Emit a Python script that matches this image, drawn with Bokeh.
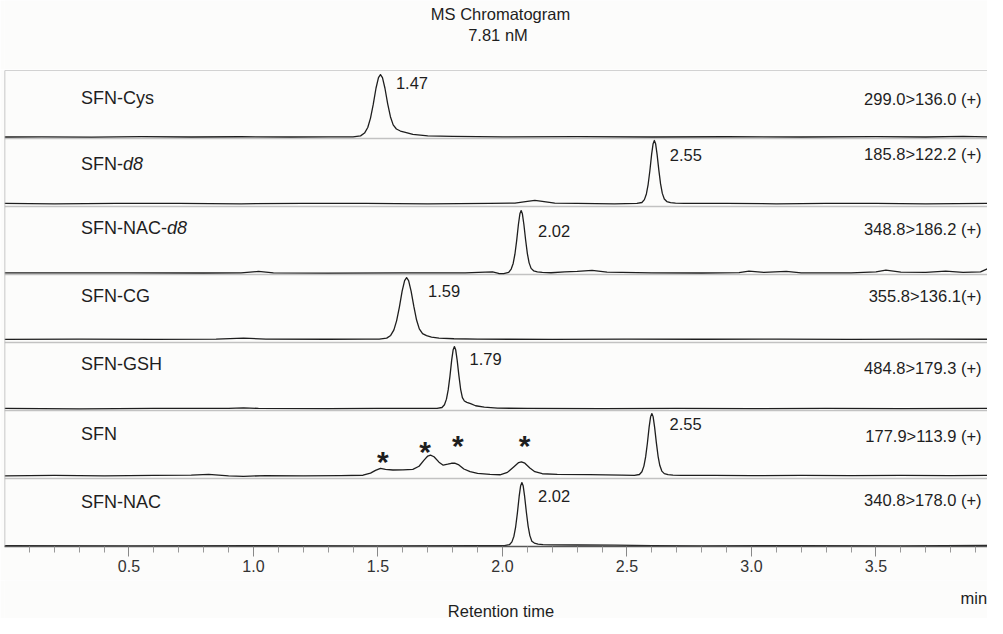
from bokeh.plotting import figure
from bokeh.layouts import column
from bokeh.models import Range1d, FixedTicker, Span, PrintfTickFormatter, ColumnDataSource
from bokeh.core.properties import value
from bokeh.embed import file_html
from bokeh.resources import INLINE

# ---------------- data ----------------
TITLE_LINES = ["MS Chromatogram", "7.81 nM"]
X_LABEL = "Retention time"
X_UNIT = "min"
MAJOR_TICKS = [0.5, 1.0, 1.5, 2.0, 2.5, 3.0, 3.5]
MINOR_TICKS = [0.1, 0.2, 0.3, 0.4, 0.6, 0.7, 0.8, 0.9, 1.1, 1.2, 1.3, 1.4,
               1.6, 1.7, 1.8, 1.9, 2.1, 2.2, 2.3, 2.4, 2.6, 2.7, 2.8, 2.9,
               3.1, 3.2, 3.3, 3.4, 3.6, 3.7, 3.8, 3.9]

TRACE_NAMES = ["SFN-Cys", "SFN-d8", "SFN-NAC-d8", "SFN-CG", "SFN-GSH", "SFN", "SFN-NAC"]
TRANSITIONS = ["299.0>136.0 (+)", "185.8>122.2 (+)", "348.8>186.2 (+)", "355.8>136.1(+)",
               "484.8>179.3 (+)", "177.9>113.9 (+)", "340.8>178.0 (+)"]
PEAK_RT_LABELS = ["1.47", "2.55", "2.02", "1.59", "1.79", "2.55", "2.02"]
STAR_RT = [1.52, 1.689, 1.821, 2.089]          # '*' marked peaks in SFN trace
STAR_LEVEL = [0.357, 0.504, 0.588, 0.588]

# relative intensity traces (0..1 within each panel)
CYS_X = [0.0, 0.15, 0.35, 0.55, 0.75, 0.95, 1.15, 1.3,
         1.40, 1.43, 1.446, 1.459, 1.47, 1.481, 1.492, 1.502, 1.51, 1.518, 1.528, 1.539, 1.55, 1.561, 1.574, 1.59, 1.61, 1.64, 1.70,
         1.8, 2.0, 2.3, 2.6, 2.9, 3.2, 3.5, 3.7, 3.85, 3.948]
CYS_Y = [0.022, 0.025, 0.02, 0.028, 0.022, 0.026, 0.022, 0.025,
         0.025, 0.039, 0.080, 0.162, 0.30, 0.501, 0.739, 0.894, 0.94, 0.894, 0.739, 0.51, 0.32, 0.2, 0.14, 0.11, 0.09, 0.06, 0.04,
         0.03, 0.025, 0.028, 0.022, 0.026, 0.022, 0.027, 0.022, 0.03, 0.025]

D8_X = [0.0, 0.2, 0.45, 0.7, 0.95, 1.2, 1.45, 1.7, 1.95, 2.05, 2.10, 2.13, 2.16, 2.21, 2.3, 2.45,
        2.54, 2.56, 2.57, 2.578, 2.585, 2.592, 2.599, 2.605, 2.61, 2.615, 2.621, 2.628, 2.635, 2.642, 2.65, 2.66, 2.675, 2.695, 2.73,
        2.9, 3.1, 3.3, 3.5, 3.7, 3.948]
D8_Y = [0.045, 0.04, 0.045, 0.045, 0.04, 0.045, 0.045, 0.04, 0.045, 0.05, 0.075, 0.09, 0.075, 0.05, 0.045, 0.04,
        0.045, 0.059, 0.101, 0.184, 0.323, 0.526, 0.767, 0.924, 0.97, 0.924, 0.767, 0.535, 0.332, 0.193, 0.11, 0.073, 0.056, 0.05, 0.045,
        0.045, 0.04, 0.045, 0.045, 0.04, 0.045]

NACD8_X = [0.0, 0.2, 0.5, 0.8, 0.95, 1.02, 1.08, 1.3, 1.6, 1.85, 1.93, 1.96, 1.985,
           2.005, 2.025, 2.035, 2.043, 2.05, 2.057, 2.064, 2.07, 2.075, 2.08, 2.086, 2.093, 2.10, 2.107, 2.115, 2.125, 2.14, 2.16, 2.195,
           2.25, 2.3, 2.36, 2.42, 2.6, 2.8, 2.95, 2.99, 3.05, 3.14, 3.2, 3.4, 3.5, 3.54, 3.6, 3.7, 3.78, 3.85, 3.92, 3.948]
NACD8_Y = [0.025, 0.023, 0.025, 0.022, 0.025, 0.045, 0.025, 0.02, 0.025, 0.023, 0.035, 0.04, 0.015,
           0.012, 0.03, 0.08, 0.163, 0.298, 0.498, 0.735, 0.892, 0.94, 0.892, 0.735, 0.507, 0.307, 0.171, 0.09, 0.054, 0.038, 0.03, 0.026,
           0.04, 0.045, 0.06, 0.035, 0.025, 0.022, 0.028, 0.05, 0.03, 0.045, 0.025, 0.025, 0.04, 0.065, 0.035, 0.03, 0.05, 0.03, 0.04, 0.085]

CG_X = [0.0, 0.3, 0.6, 0.85, 0.96, 1.05, 1.3, 1.45,
        1.505, 1.535, 1.551, 1.564, 1.575, 1.586, 1.597, 1.607, 1.615, 1.623, 1.633, 1.644, 1.655, 1.666, 1.679, 1.695, 1.715, 1.745, 1.805,
        1.9, 2.2, 2.5, 2.8, 3.1, 3.4, 3.7, 3.948]
CG_Y = [0.045, 0.05, 0.045, 0.05, 0.065, 0.05, 0.048, 0.05,
        0.05, 0.064, 0.104, 0.186, 0.322, 0.521, 0.756, 0.91, 0.955, 0.91, 0.756, 0.53, 0.33, 0.2, 0.13, 0.1, 0.08, 0.065, 0.055,
        0.05, 0.045, 0.05, 0.048, 0.05, 0.045, 0.05, 0.048]

GSH_X = [0.0, 0.3, 0.6, 0.9, 0.96, 1.02, 1.3, 1.5, 1.65,
         1.737, 1.757, 1.767, 1.775, 1.782, 1.789, 1.796, 1.802, 1.807, 1.812, 1.818, 1.825, 1.832, 1.839, 1.847, 1.857, 1.872, 1.892, 1.927,
         1.98, 2.1, 2.4, 2.7, 3.0, 3.3, 3.6, 3.948]
GSH_Y = [0.03, 0.025, 0.03, 0.032, 0.04, 0.03, 0.028, 0.03, 0.03,
         0.03, 0.044, 0.085, 0.167, 0.303, 0.503, 0.74, 0.895, 0.94, 0.895, 0.74, 0.512, 0.312, 0.19, 0.14, 0.12, 0.1, 0.07, 0.05,
         0.035, 0.03, 0.028, 0.03, 0.027, 0.03, 0.028, 0.03]

SFN_X = [0.0, 0.2, 0.4, 0.6, 0.75, 0.82, 0.9, 0.96, 1.05, 1.2, 1.35, 1.44, 1.47, 1.49, 1.51, 1.53, 1.56, 1.6, 1.64, 1.665,
         1.685, 1.70, 1.711, 1.725, 1.745, 1.762, 1.78, 1.795, 1.808, 1.825, 1.845, 1.87, 1.9, 1.95, 1.99, 2.02, 2.045, 2.065, 2.076,
         2.09, 2.11, 2.13, 2.16, 2.22, 2.35, 2.48,
         2.53, 2.55, 2.56, 2.568, 2.575, 2.582, 2.589, 2.595, 2.60, 2.605, 2.611, 2.618, 2.625, 2.632, 2.64, 2.65, 2.665, 2.685, 2.72,
         2.85, 3.0, 3.2, 3.4, 3.6, 3.8, 3.948]
SFN_Y = [0.04, 0.045, 0.04, 0.045, 0.05, 0.062, 0.04, 0.032, 0.042, 0.04, 0.042, 0.048, 0.08, 0.12, 0.15, 0.135, 0.125, 0.128, 0.135, 0.18,
         0.27, 0.33, 0.343, 0.32, 0.24, 0.196, 0.21, 0.224, 0.225, 0.2, 0.14, 0.1, 0.075, 0.06, 0.055, 0.09, 0.17, 0.235, 0.245,
         0.225, 0.155, 0.1, 0.07, 0.06, 0.058, 0.05,
         0.045, 0.059, 0.10, 0.182, 0.318, 0.518, 0.755, 0.91, 0.955, 0.91, 0.755, 0.527, 0.327, 0.191, 0.109, 0.072, 0.056, 0.05, 0.045,
         0.045, 0.043, 0.045, 0.042, 0.045, 0.043, 0.045]

NAC_X = [0.0, 0.5, 1.0, 1.5, 1.9,
         2.008, 2.028, 2.038, 2.046, 2.053, 2.06, 2.067, 2.073, 2.078, 2.083, 2.089, 2.096, 2.103, 2.11, 2.118, 2.128, 2.143, 2.163, 2.198,
         2.3, 2.45, 2.6, 2.8, 3.2, 3.6, 3.948]
NAC_Y = [0.012, 0.01, 0.012, 0.01, 0.012,
         0.012, 0.026, 0.068, 0.151, 0.29, 0.495, 0.736, 0.894, 0.94, 0.894, 0.736, 0.504, 0.30, 0.16, 0.077, 0.05, 0.035, 0.028, 0.024,
         0.022, 0.02, 0.012, 0.01, 0.012, 0.01, 0.015]

TRACES = [(CYS_X, CYS_Y), (D8_X, D8_Y), (NACD8_X, NACD8_Y), (CG_X, CG_Y),
          (GSH_X, GSH_Y), (SFN_X, SFN_Y), (NAC_X, NAC_Y)]

# ---------------- layout / style ----------------
FONT = "Liberation Sans"
BG = "#fcfcfb"
TXT = "#1e1e1e"
N = len(TRACE_NAMES)
W = 987
X_END = 3.948

NAME_X = 0.307
NAME_LEVEL = [0.59, 0.62, 0.68, 0.69, 0.68, 0.65, 0.66]
TRANS_X = 3.924
TRANS_LEVEL = [0.58, 0.77, 0.67, 0.68, 0.63, 0.63, 0.68]
RT_LABEL_X = [1.572, 2.672, 2.143, 1.701, 1.868, 2.671, 2.143]
RT_LABEL_LEVEL = [0.82, 0.76, 0.645, 0.76, 0.755, 0.80, 0.75]
ITALIC_PREFIX_PX = {"SFN-": 42, "SFN-NAC-": 86}


def blank_fig(h):
    f = figure(width=W, height=h, x_range=Range1d(0, X_END), y_range=Range1d(0, h),
               output_backend="svg", toolbar_location=None, x_axis_location=None, y_axis_location=None,
               min_border_left=4, min_border_right=0, min_border_top=0, min_border_bottom=0,
               background_fill_color=BG, border_fill_color=BG, outline_line_color=None)
    f.grid.visible = False
    return f


# --- top strip: two-line title ---
top = blank_fig(69)
top.text(x=[1.992, 1.982], y=[55.5, 34.5], text=TITLE_LINES, text_font=value(FONT),
         text_font_size="16.5px", text_color=TXT, text_align="center", text_baseline="middle")

# --- main chromatogram panel ---
p = figure(width=W, height=511, x_range=top.x_range, y_range=Range1d(0, 7),
           output_backend="svg", toolbar_location=None, y_axis_location=None,
           min_border_left=4, min_border_right=0, min_border_top=1, min_border_bottom=34,
           background_fill_color=BG, border_fill_color=BG, outline_line_color=None)
p.grid.visible = False

ax = p.xaxis[0]
ax.ticker = FixedTicker(ticks=MAJOR_TICKS, minor_ticks=MINOR_TICKS)
ax.formatter = PrintfTickFormatter(format="%.1f")
ax.axis_line_color = "#555555"
ax.axis_line_width = 1.5
ax.major_tick_in = 0
ax.major_tick_out = 10
ax.minor_tick_in = 0
ax.minor_tick_out = 6
ax.major_tick_line_color = "#888888"
ax.minor_tick_line_color = "#999999"
ax.major_label_text_font = FONT
ax.major_label_text_font_size = "16px"
ax.major_label_text_color = "#333333"
ax.major_label_standoff = 3

# panel separators and borders
for k in range(1, N):
    p.add_layout(Span(location=k, dimension="width", line_color="#c2c2c2", line_width=1.5, level="underlay"))
p.add_layout(Span(location=7, dimension="width", line_color="#a8a8a8", line_width=1.2))
p.add_layout(Span(location=0, dimension="height", line_color="#b5b5b5", line_width=1.5))

# traces
for i, (xs, ys) in enumerate(TRACES):
    off = N - 1 - i
    p.line(xs, [off + y for y in ys], line_color=TXT, line_width=1.3, line_join="round")

# names (with italic d8 suffix)
base_x, base_y, base_t = [], [], []
it_x, it_y, it_t, it_off = [], [], [], []
for i, name in enumerate(TRACE_NAMES):
    off = N - 1 - i
    if name.endswith("d8"):
        pre = name[:-2]
        base_x.append(NAME_X); base_y.append(off + NAME_LEVEL[i]); base_t.append(pre)
        it_x.append(NAME_X); it_y.append(off + NAME_LEVEL[i]); it_t.append("d8")
        it_off.append(ITALIC_PREFIX_PX[pre])
    else:
        base_x.append(NAME_X); base_y.append(off + NAME_LEVEL[i]); base_t.append(name)

p.text(x=base_x, y=base_y, text=base_t, text_font=value(FONT), text_font_size="18px",
       text_color=TXT, text_align="left", text_baseline="middle")
p.text(source=ColumnDataSource(dict(x=it_x, y=it_y, t=it_t, o=it_off)), x="x", y="y", text="t",
       x_offset="o", text_font=value(FONT), text_font_size="18px", text_font_style="italic",
       text_color=TXT, text_align="left", text_baseline="middle")

# transitions
p.text(x=[TRANS_X] * N, y=[N - 1 - i + TRANS_LEVEL[i] for i in range(N)], text=TRANSITIONS,
       text_font=value(FONT), text_font_size="16.5px", text_color=TXT,
       text_align="right", text_baseline="middle")

# retention time labels
p.text(x=RT_LABEL_X, y=[N - 1 - i + RT_LABEL_LEVEL[i] for i in range(N)], text=PEAK_RT_LABELS,
       text_font=value(FONT), text_font_size="16.5px", text_color=TXT,
       text_align="left", text_baseline="middle")

# asterisks on SFN trace
sfn_off = N - 1 - TRACE_NAMES.index("SFN")
p.text(x=STAR_RT, y=[sfn_off + v for v in STAR_LEVEL], text=["*"] * len(STAR_RT),
       text_font=value(FONT), text_font_size="30px", text_font_style="bold", text_color=TXT,
       text_align="center", text_baseline="middle", y_offset=7)

# --- bottom strip: unit and axis title ---
bot = blank_fig(38)
bot.x_range = top.x_range
bot.text(x=[3.84], y=[21], text=[X_UNIT], text_font=value(FONT), text_font_size="16.5px",
         text_color=TXT, text_align="left", text_baseline="middle")
bot.text(x=[1.994], y=[8], text=[X_LABEL], text_font=value(FONT), text_font_size="16.5px",
         text_color=TXT, text_align="center", text_baseline="middle")

layout = column(top, p, bot, spacing=0)
open("out.html", "w").write(file_html(layout, INLINE))
